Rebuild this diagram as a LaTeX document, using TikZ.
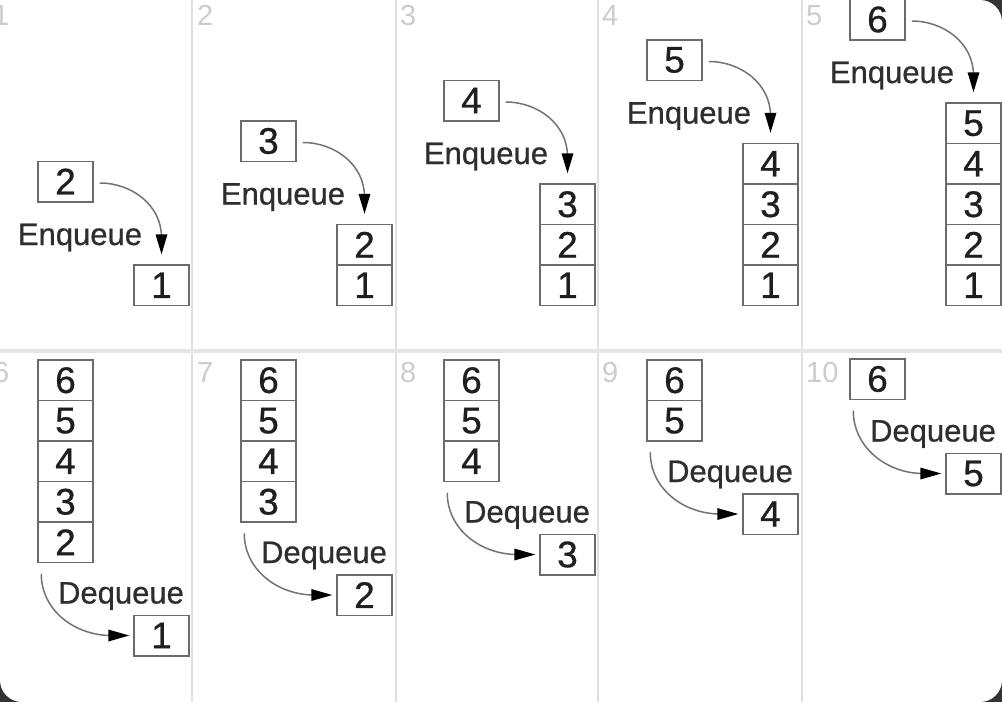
\documentclass[tikz,border=0pt]{standalone}
\usepackage{fontspec}
\setmainfont{Liberation Sans}
\newfontfamily\blurfont[FakeBold=0.7]{Liberation Sans}
\begin{document}
\begin{tikzpicture}[x=1pt,y=1pt]
        \tikzstyle{every node}+=[inner sep=0pt]
        \tikzstyle{cell}=[draw=black!58, line width=1.5pt, minimum width=55pt, minimum height=40.5pt, font=\blurfont\fontsize{37}{37}\selectfont, text=black!88]
        \tikzstyle{opname}=[anchor=base, font=\blurfont\fontsize{31}{31}\selectfont, text=black!82]
        \tikzstyle{stepno}=[anchor=north west, font=\fontsize{29}{29}\selectfont, text=black!20]
        \tikzstyle{curve}=[draw=black!55, line width=1.5pt]
        \useasboundingbox (0,0) rectangle (1002,-702);
        \clip (0,0) rectangle (1002,-702);
        \fill [black!80] (0,0) rectangle (1002,-702);
        \fill [white, rounded corners=22pt] (0,0) rectangle (1002,-702);
        \fill [white] (0,0) rectangle (40,-40);
        % frames
        \draw [black!12, line width=2pt] (192,0) -- (192,-702);
        \draw [black!12, line width=2pt] (396,0) -- (396,-702);
        \draw [black!12, line width=2pt] (598,0) -- (598,-702);
        \draw [black!12, line width=2pt] (802,0) -- (802,-702);
        \draw [black!10, line width=4pt] (0,-351) -- (1002,-351);
        \node [stepno] (n1) at (-7,-5) {1};
        \node [stepno] (n2) at (197,-5) {2};
        \node [stepno] (n3) at (400,-5) {3};
        \node [stepno] (n4) at (602,-5) {4};
        \node [stepno] (n5) at (806,-5) {5};
        \node [stepno] (n6) at (-7,-362) {6};
        \node [stepno] (n7) at (197,-362) {7};
        \node [stepno] (n8) at (400,-362) {8};
        \node [stepno] (n9) at (602,-362) {9};
        \node [stepno] (n10) at (806,-362) {10};
        % 1
        \node [cell] (q1v1) at (161.5,-285.25) {1};
        \node [cell] (e1) at (65.5,-181.5) {2};
        \node [opname] (l1) at (80,-245) {Enqueue};
        \coordinate (t1) at ([yshift=10pt]q1v1.north);
        \draw [curve] ([xshift=6pt,yshift=-1.5pt]e1.east) to[out=0,in=90] ([yshift=17pt]t1);
        \fill [black] (t1) -- ++(-6,20) -- ++(12,0) -- cycle;
        % 2
        \node [cell] (q2v1) at (364.5,-285.25) {1};
        \node [cell] (q2v2) at (364.5,-244.75) {2};
        \node [cell] (e2) at (268.5,-141) {3};
        \node [opname] (l2) at (283,-204.5) {Enqueue};
        \coordinate (t2) at ([yshift=10pt]q2v2.north);
        \draw [curve] ([xshift=6pt,yshift=-1.5pt]e2.east) to[out=0,in=90] ([yshift=17pt]t2);
        \fill [black] (t2) -- ++(-6,20) -- ++(12,0) -- cycle;
        % 3
        \node [cell] (q3v1) at (567.5,-285.25) {1};
        \node [cell] (q3v2) at (567.5,-244.75) {2};
        \node [cell] (q3v3) at (567.5,-204.25) {3};
        \node [cell] (e3) at (471.5,-100.5) {4};
        \node [opname] (l3) at (486,-164) {Enqueue};
        \coordinate (t3) at ([yshift=10pt]q3v3.north);
        \draw [curve] ([xshift=6pt,yshift=-1.5pt]e3.east) to[out=0,in=90] ([yshift=17pt]t3);
        \fill [black] (t3) -- ++(-6,20) -- ++(12,0) -- cycle;
        % 4
        \node [cell] (q4v1) at (770.5,-285.25) {1};
        \node [cell] (q4v2) at (770.5,-244.75) {2};
        \node [cell] (q4v3) at (770.5,-204.25) {3};
        \node [cell] (q4v4) at (770.5,-163.75) {4};
        \node [cell] (e4) at (674.5,-60) {5};
        \node [opname] (l4) at (689,-123.5) {Enqueue};
        \coordinate (t4) at ([yshift=10pt]q4v4.north);
        \draw [curve] ([xshift=6pt,yshift=-1.5pt]e4.east) to[out=0,in=90] ([yshift=17pt]t4);
        \fill [black] (t4) -- ++(-6,20) -- ++(12,0) -- cycle;
        % 5
        \node [cell] (q5v1) at (973.5,-285.25) {1};
        \node [cell] (q5v2) at (973.5,-244.75) {2};
        \node [cell] (q5v3) at (973.5,-204.25) {3};
        \node [cell] (q5v4) at (973.5,-163.75) {4};
        \node [cell] (q5v5) at (973.5,-123.25) {5};
        \node [cell] (e5) at (877.5,-19.5) {6};
        \node [opname] (l5) at (892,-83) {Enqueue};
        \coordinate (t5) at ([yshift=10pt]q5v5.north);
        \draw [curve] ([xshift=6pt,yshift=-1.5pt]e5.east) to[out=0,in=90] ([yshift=17pt]t5);
        \fill [black] (t5) -- ++(-6,20) -- ++(12,0) -- cycle;
        % 6
        \node [cell] (q6v6) at (65.5,-380.25) {6};
        \node [cell] (q6v5) at (65.5,-420.75) {5};
        \node [cell] (q6v4) at (65.5,-461.25) {4};
        \node [cell] (q6v3) at (65.5,-501.75) {3};
        \node [cell] (q6v2) at (65.5,-542.25) {2};
        \node [cell] (d6) at (161.5,-635.5) {1};
        \node [opname] (l6) at (121,-603.5) {Dequeue};
        \coordinate (t6) at ([xshift=-4pt]d6.west);
        \draw [curve] ([xshift=4pt,yshift=-10.5pt]q6v2.south west) to[out=-90,in=180] ([xshift=-18pt]t6);
        \fill [black] (t6) -- ++(-21,6) -- ++(0,-12) -- cycle;
        % 7
        \node [cell] (q7v6) at (268.5,-380.25) {6};
        \node [cell] (q7v5) at (268.5,-420.75) {5};
        \node [cell] (q7v4) at (268.5,-461.25) {4};
        \node [cell] (q7v3) at (268.5,-501.75) {3};
        \node [cell] (d7) at (364.5,-595) {2};
        \node [opname] (l7) at (324,-563) {Dequeue};
        \coordinate (t7) at ([xshift=-4pt]d7.west);
        \draw [curve] ([xshift=4pt,yshift=-10.5pt]q7v3.south west) to[out=-90,in=180] ([xshift=-18pt]t7);
        \fill [black] (t7) -- ++(-21,6) -- ++(0,-12) -- cycle;
        % 8
        \node [cell] (q8v6) at (471.5,-380.25) {6};
        \node [cell] (q8v5) at (471.5,-420.75) {5};
        \node [cell] (q8v4) at (471.5,-461.25) {4};
        \node [cell] (d8) at (567.5,-554.5) {3};
        \node [opname] (l8) at (527,-522.5) {Dequeue};
        \coordinate (t8) at ([xshift=-4pt]d8.west);
        \draw [curve] ([xshift=4pt,yshift=-10.5pt]q8v4.south west) to[out=-90,in=180] ([xshift=-18pt]t8);
        \fill [black] (t8) -- ++(-21,6) -- ++(0,-12) -- cycle;
        % 9
        \node [cell] (q9v6) at (674.5,-380.25) {6};
        \node [cell] (q9v5) at (674.5,-420.75) {5};
        \node [cell] (d9) at (770.5,-514) {4};
        \node [opname] (l9) at (730,-482) {Dequeue};
        \coordinate (t9) at ([xshift=-4pt]d9.west);
        \draw [curve] ([xshift=4pt,yshift=-10.5pt]q9v5.south west) to[out=-90,in=180] ([xshift=-18pt]t9);
        \fill [black] (t9) -- ++(-21,6) -- ++(0,-12) -- cycle;
        % 10
        \node [cell] (q10v6) at (877.5,-379) {6};
        \node [cell] (d10) at (973.5,-473.5) {5};
        \node [opname] (l10) at (933,-441.5) {Dequeue};
        \coordinate (t10) at ([xshift=-4pt]d10.west);
        \draw [curve] ([xshift=4pt,yshift=-10.5pt]q10v6.south west) to[out=-90,in=180] ([xshift=-18pt]t10);
        \fill [black] (t10) -- ++(-21,6) -- ++(0,-12) -- cycle;
\end{tikzpicture}
\end{document}
